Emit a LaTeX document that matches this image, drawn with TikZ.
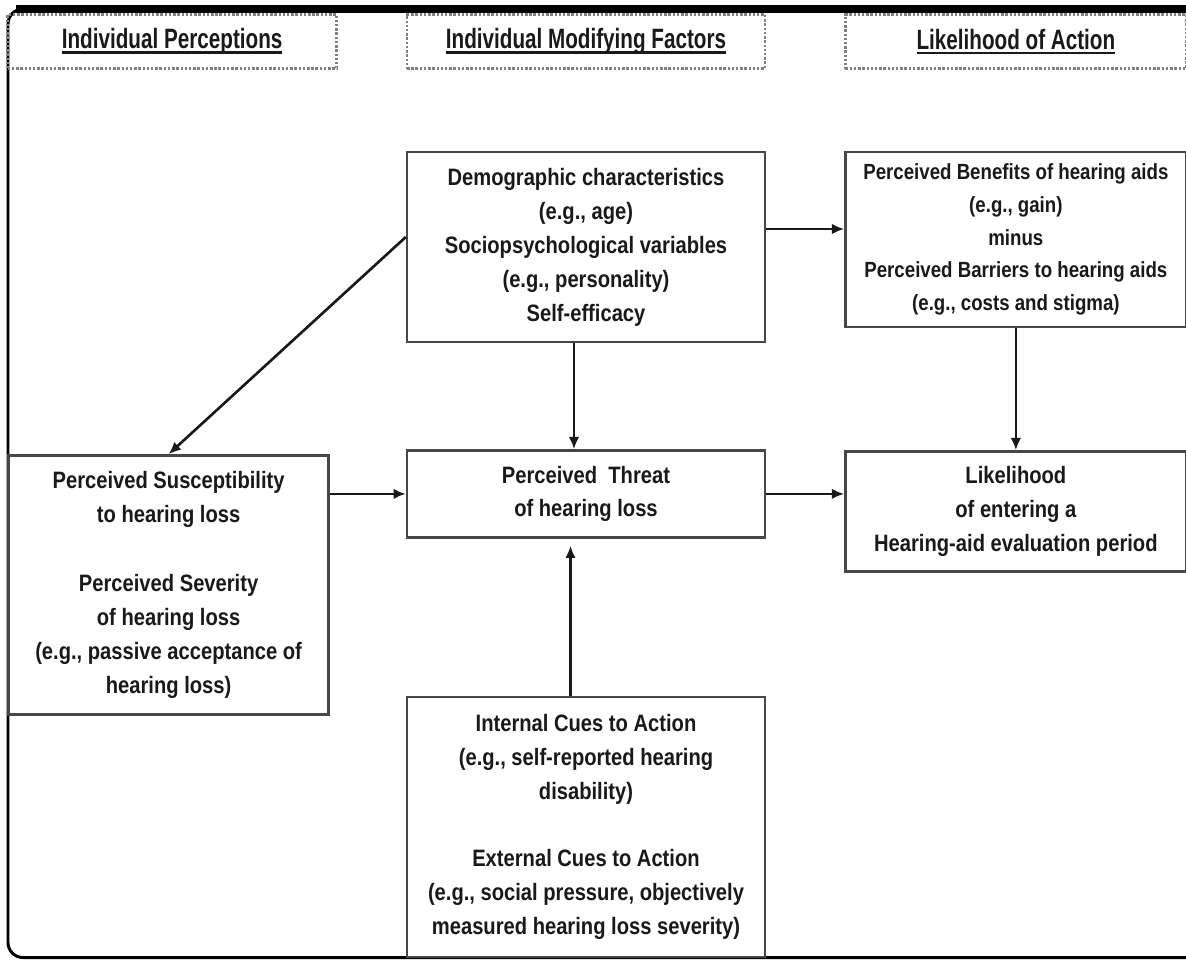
\documentclass[tikz,border=0pt]{standalone}
\usepackage{fontspec}
\usepackage{tikz}
\usetikzlibrary{arrows.meta,positioning}
\newfontfamily\bxfont{Liberation Sans}[FakeStretch=0.85]
\newfontfamily\hdfont{Liberation Sans}[FakeStretch=0.74]
\newcommand\hdunder[1]{\setbox0\hbox{#1}\rlap{\rule[-3pt]{\wd0}{1.5pt}}\box0}
\tikzset{
  factorbox/.style={
    rectangle,
    draw=black!72,
    line width=1.4pt,
    fill=white,
    align=center,
    inner sep=0pt,
    text=black!90,
    font=\bxfont\bfseries\fontsize{13.5}{19.35}\selectfont
  },
  headbox/.style={
    rectangle,
    draw=black!50,
    densely dotted,
    line width=1.4pt,
    align=center,
    inner sep=0pt,
    minimum height=1.08cm,
    text=black!90,
    font=\hdfont\bfseries\fontsize{15.9}{19}\selectfont
  },
  causeline/.style={-{Latex[length=7pt,width=6pt]},line width=1.5pt,black!90}
}

\begin{document}
\begin{tikzpicture}[x=0.02cm,y=-0.02cm]
  \useasboundingbox (0,0) rectangle (1186,960);
  % outer frame
  \draw[line width=1.7pt,rounded corners=0.3cm] (1200,957.5) -- (8,957.5) -- (8,9) -- (1200,9);
  \draw[line width=4.4pt] (16,9) -- (1200,9);

  \node[factorbox, minimum width=7.16cm, minimum height=3.8cm] (demo) at (586,247)
    {Demographic characteristics\\(e.g., age)\\Sociopsychological variables\\(e.g., personality)\\Self-efficacy};
  \node[factorbox, below=2.12cm of demo, minimum width=7.16cm, minimum height=1.74cm] (threat)
    {Perceived\ \ Threat\\of hearing loss};
  \node[factorbox, below=3.14cm of threat, minimum width=7.16cm, minimum height=5.2cm] (cues)
    {Internal Cues to Action\\(e.g., self-reported hearing\\disability)\\[19pt]External Cues to Action\\(e.g., social pressure, objectively\\measured hearing loss severity)};
  \node[factorbox, anchor=north west, minimum width=6.82cm, minimum height=3.5cm,
    font=\bxfont\bfseries\fontsize{12.5}{18.6}\selectfont] (bene) at ([xshift=1.56cm]demo.north east)
    {Perceived Benefits of hearing aids\\(e.g., gain)\\minus\\Perceived Barriers to hearing aids\\(e.g., costs and stigma)};
  \node[factorbox, below=2.44cm of bene, minimum width=6.82cm, minimum height=2.4cm] (like)
    {Likelihood\\of entering a\\Hearing-aid evaluation period};
  \node[factorbox, anchor=north east, minimum width=6.4cm, minimum height=5.18cm] (suscep)
    at ([xshift=-1.52cm,yshift=-0.1cm]threat.north west)
    {Perceived Susceptibility\\to hearing loss\\[20pt]Perceived Severity\\of hearing loss\\(e.g., passive acceptance of\\hearing loss)};

  % column headings
  \node[headbox, above=1.62cm of demo, minimum width=7.16cm] (hmid) {\hdunder{Individual Modifying Factors}};
  \node[headbox, left=1.36cm of hmid, minimum width=6.58cm] (hleft) {\hdunder{Individual Perceptions}};
  \node[headbox, anchor=south west, minimum width=6.82cm] (hright) at ([xshift=1.56cm]hmid.south east)
    {\hdunder{Likelihood of Action}};

  \coordinate (demoout) at ([yshift=0.36cm]demo.east);
  \coordinate (demodown) at ([xshift=-0.24cm]demo.south);
  \coordinate (cuesup) at ([xshift=-0.31cm]cues.north);
  \draw[causeline] (demoout) -- (demoout -| bene.west);
  \draw[causeline] ([yshift=0.2cm]demo.west) -- (suscep.north);
  \draw[causeline] (demodown) -- (demodown |- threat.north);
  \draw[causeline, shorten >=4pt] (cuesup) -- (cuesup |- threat.south);
  \draw[causeline] (suscep.east |- threat.west) -- (threat.west);
  \draw[causeline] (threat.east) -- (threat.east -| like.west);
  \draw[causeline] (bene.south) -- (like.north);
\end{tikzpicture}
\end{document}
